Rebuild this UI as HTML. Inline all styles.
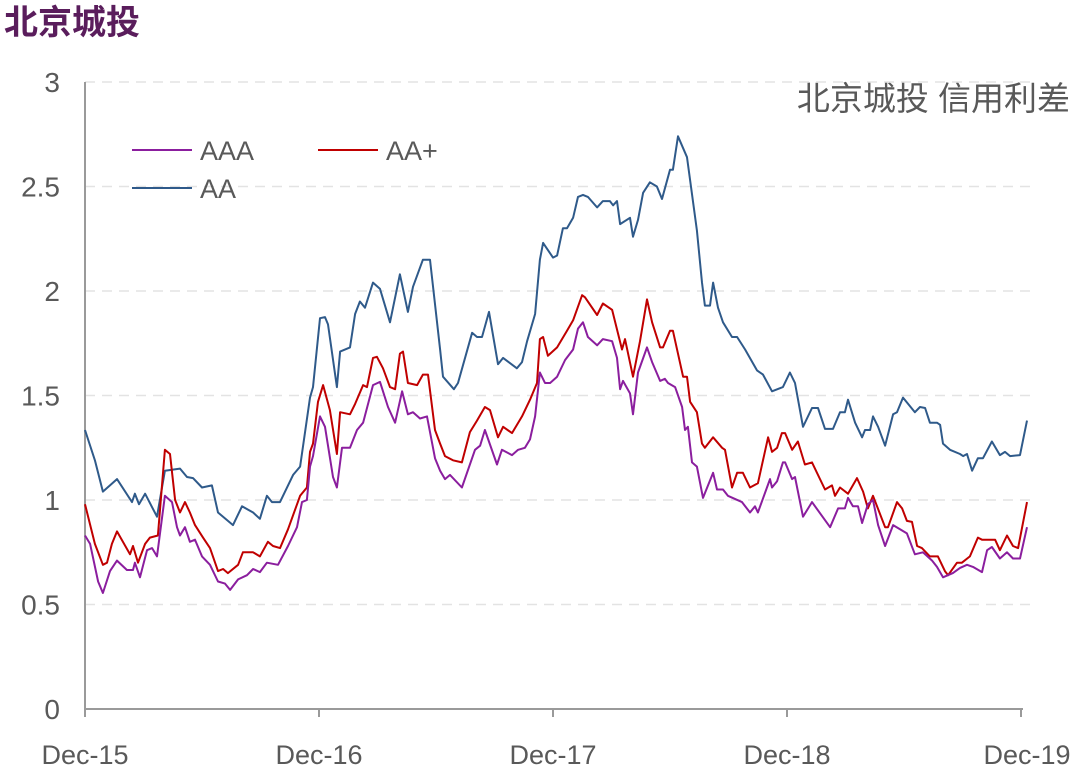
<!DOCTYPE html>
<html><head><meta charset="utf-8"><style>
body{margin:0;background:#fff;width:1080px;height:778px;overflow:hidden}
svg text{font-family:"Liberation Sans","Noto Sans CJK SC",sans-serif}
</style></head><body>
<svg id="chart" width="1080" height="778">
<text x="4" y="34" font-size="34" font-weight="bold" fill="#5a1d5c">北京城投</text>
<text x="1070" y="110" font-size="33" fill="#595959" text-anchor="end">北京城投 信用利差</text>
<g id="grid"></g><g id="axes"></g><g id="series"></g>
<g>
<line x1="132" y1="150" x2="192" y2="150" stroke="#8b1e9e" stroke-width="2"/>
<text x="200" y="160" font-size="27" fill="#595959">AAA</text>
<line x1="318" y1="150" x2="378" y2="150" stroke="#c00000" stroke-width="2"/>
<text x="386" y="160" font-size="27" fill="#595959">AA+</text>
<line x1="132" y1="188" x2="192" y2="188" stroke="#2f5a8a" stroke-width="2"/>
<text x="200" y="198" font-size="27" fill="#595959">AA</text>
</g>
</svg>
<script>
const xTickLabels=["Dec-15","Dec-16","Dec-17","Dec-18","Dec-19"];
const yTicks=[0,0.5,1,1.5,2,2.5,3];
const yTickLabels=["0","0.5","1","1.5","2","2.5","3"];
// months since Dec-15
const aaMonths=[0,.51,.92,1.64,2.41,2.56,2.77,3.08,3.69,4.10,4.87,5.23,5.54,6.0,6.51,6.82,7.59,8.05,8.62,8.97,9.33,9.59,10.0,10.67,11.03,11.54,11.69,12.05,12.31,12.46,12.92,13.08,13.59,13.85,14.10,14.36,14.77,15.13,15.64,16.15,16.56,16.82,17.33,17.69,18.21,18.36,18.92,19.13,19.85,20.10,20.36,20.72,21.18,21.44,22.15,22.41,22.67,23.08,23.33,23.49,24.0,24.21,24.51,24.72,25.03,25.28,25.54,25.79,26.26,26.56,26.92,27.08,27.28,27.44,27.95,28.10,28.36,28.62,28.97,29.33,29.59,30.0,30.15,30.41,30.87,31.38,31.64,31.79,32.05,32.21,32.46,32.72,33.18,33.44,33.85,34.46,34.77,35.23,35.79,36.15,36.41,36.82,37.28,37.59,37.95,38.36,38.72,38.97,39.13,39.49,39.85,40.0,40.26,40.41,40.67,41.03,41.44,41.64,41.95,42.21,42.56,42.82,43.08,43.33,43.69,43.85,44.0,44.36,44.87,45.03,45.23,45.49,45.79,46.05,46.51,46.92,47.18,47.44,47.95,48.31];
const aaValues=[1.335,1.19,1.04,1.10,0.99,1.03,0.98,1.03,0.92,1.14,1.15,1.11,1.105,1.06,1.07,0.94,0.88,0.97,0.94,0.91,1.02,0.99,0.99,1.12,1.16,1.49,1.54,1.87,1.875,1.84,1.54,1.71,1.73,1.89,1.95,1.92,2.04,2.01,1.85,2.08,1.90,2.02,2.15,2.15,1.72,1.59,1.53,1.56,1.80,1.78,1.78,1.90,1.65,1.68,1.63,1.66,1.76,1.89,2.15,2.23,2.16,2.17,2.30,2.30,2.35,2.45,2.46,2.45,2.40,2.43,2.43,2.41,2.43,2.32,2.35,2.26,2.34,2.47,2.52,2.50,2.44,2.58,2.58,2.74,2.64,2.29,2.04,1.93,1.93,2.04,1.92,1.85,1.78,1.78,1.72,1.62,1.60,1.52,1.54,1.61,1.56,1.35,1.44,1.44,1.34,1.34,1.42,1.42,1.48,1.37,1.30,1.335,1.335,1.40,1.35,1.26,1.41,1.42,1.49,1.46,1.42,1.445,1.44,1.37,1.37,1.36,1.27,1.24,1.22,1.21,1.22,1.14,1.20,1.20,1.28,1.215,1.23,1.21,1.215,1.38];
const aaPlusMonths=[0,.51,.92,1.13,1.38,1.64,2.31,2.46,2.72,3.08,3.33,3.74,4.10,4.36,4.62,4.87,5.13,5.38,5.64,6.05,6.41,6.82,7.08,7.33,7.85,8.10,8.62,8.97,9.38,9.64,10.0,10.41,11.03,11.38,11.54,11.69,11.95,12.21,12.56,12.92,13.08,13.59,13.85,14.26,14.46,14.77,14.97,15.28,15.64,15.90,16.15,16.31,16.56,17.03,17.33,17.59,17.95,18.21,18.46,18.87,19.33,19.74,20.10,20.51,20.77,21.18,21.44,21.90,22.41,22.82,23.18,23.33,23.49,23.74,24.21,24.72,25.03,25.49,25.64,26.26,26.56,27.03,27.54,27.69,28.10,28.46,28.82,29.08,29.49,29.64,30.0,30.15,30.67,30.87,31.03,31.38,31.64,31.79,32.21,32.67,32.82,33.18,33.44,33.74,34.10,34.51,35.03,35.23,35.49,35.74,35.90,36.26,36.56,36.92,37.28,37.95,38.31,38.46,38.72,39.13,39.59,39.90,40.15,40.41,41.03,41.18,41.64,41.90,42.15,42.41,42.67,42.92,43.33,43.74,44.10,44.26,44.72,44.97,45.38,45.79,46.0,46.67,46.92,47.28,47.59,47.85,48.31];
const aaPlusValues=[0.98,0.79,0.69,0.70,0.79,0.85,0.74,0.78,0.70,0.79,0.82,0.83,1.24,1.22,1.0,0.94,0.99,0.94,0.88,0.82,0.77,0.66,0.67,0.65,0.69,0.75,0.75,0.73,0.80,0.78,0.77,0.86,1.02,1.06,1.23,1.27,1.47,1.55,1.43,1.22,1.42,1.41,1.46,1.55,1.54,1.68,1.685,1.63,1.54,1.53,1.70,1.71,1.56,1.55,1.60,1.60,1.335,1.27,1.21,1.19,1.18,1.325,1.38,1.445,1.43,1.30,1.35,1.32,1.40,1.48,1.56,1.77,1.78,1.69,1.73,1.81,1.86,1.98,1.97,1.885,1.94,1.91,1.72,1.77,1.59,1.76,1.96,1.85,1.73,1.73,1.81,1.81,1.59,1.59,1.47,1.42,1.27,1.25,1.30,1.25,1.24,1.06,1.13,1.13,1.06,1.08,1.30,1.23,1.25,1.32,1.32,1.24,1.28,1.17,1.18,1.05,1.07,1.02,1.06,1.03,1.105,1.04,0.96,1.02,0.87,0.87,0.99,0.96,0.90,0.895,0.78,0.77,0.73,0.73,0.66,0.64,0.70,0.70,0.73,0.82,0.81,0.81,0.76,0.83,0.78,0.77,0.99];
const aaaMonths=[0,.26,.67,.92,1.28,1.64,2.15,2.46,2.56,2.82,3.18,3.44,3.69,4.10,4.46,4.72,4.87,5.13,5.38,5.64,6.0,6.41,6.82,7.18,7.44,7.85,8.31,8.62,8.97,9.33,9.90,10.41,10.87,11.13,11.38,11.54,11.69,12.05,12.31,12.72,12.92,13.18,13.44,13.59,13.95,14.26,14.77,15.13,15.54,15.90,16.26,16.56,16.82,17.18,17.54,17.69,17.95,18.21,18.46,18.72,19.33,20.0,20.26,20.51,21.13,21.38,21.90,22.21,22.56,22.82,23.08,23.33,23.59,23.85,24.21,24.62,25.03,25.28,25.54,25.79,26.26,26.56,27.03,27.28,27.44,27.59,27.95,28.10,28.36,28.82,29.08,29.49,29.74,29.90,30.26,30.62,30.77,30.92,31.13,31.38,31.69,32.21,32.41,32.72,32.97,33.69,34.10,34.36,34.51,35.13,35.23,35.49,35.79,35.90,36.26,36.41,36.82,37.28,38.21,38.62,38.97,39.13,39.38,39.64,39.85,40.15,40.41,40.67,41.03,41.44,42.15,42.56,42.97,43.44,43.69,44.0,44.51,44.87,45.23,45.54,46.0,46.26,46.51,46.92,47.28,47.59,47.95,48.31];
const aaaValues=[0.83,0.79,0.61,0.555,0.66,0.71,0.665,0.665,0.70,0.63,0.76,0.77,0.73,1.02,0.99,0.87,0.83,0.87,0.80,0.81,0.73,0.69,0.61,0.60,0.57,0.62,0.64,0.67,0.655,0.70,0.69,0.78,0.87,0.99,1.0,1.16,1.21,1.40,1.35,1.11,1.06,1.25,1.25,1.25,1.335,1.37,1.55,1.565,1.445,1.37,1.52,1.41,1.42,1.39,1.40,1.325,1.20,1.14,1.10,1.12,1.06,1.24,1.26,1.335,1.17,1.24,1.215,1.24,1.25,1.29,1.40,1.61,1.56,1.56,1.59,1.67,1.72,1.82,1.85,1.78,1.74,1.77,1.76,1.68,1.53,1.57,1.51,1.41,1.61,1.73,1.66,1.57,1.58,1.56,1.54,1.445,1.335,1.35,1.18,1.16,1.01,1.13,1.05,1.05,1.02,0.99,0.94,0.97,0.94,1.10,1.06,1.09,1.18,1.18,1.10,1.11,0.92,0.99,0.87,0.96,0.96,1.01,0.97,0.97,0.89,0.98,1.0,0.88,0.78,0.88,0.84,0.74,0.75,0.71,0.68,0.63,0.65,0.675,0.69,0.68,0.655,0.76,0.775,0.72,0.75,0.72,0.72,0.87];

const NS="http://www.w3.org/2000/svg";
const X0=85,X1=1021,Y0=709,Y1=82;
const xScale=m=>X0+(X1-X0)*m/48;
const yScale=v=>Y0-(Y0-Y1)*v/3;
function mk(tag,attrs,parent){const e=document.createElementNS(NS,tag);for(const k in attrs)e.setAttribute(k,attrs[k]);parent.appendChild(e);return e;}
const grid=document.getElementById('grid'),axes=document.getElementById('axes'),ser=document.getElementById('series');
yTicks.forEach((v,i)=>{
  if(v>0){const g=mk('line',{x1:X0,x2:1030,y1:yScale(v),y2:yScale(v),stroke:'#e3e3e3','stroke-width':1.5,'stroke-dasharray':'10,7'},grid);
  
  }
  const t=mk('text',{x:60,y:yScale(v)+10,'font-size':28,fill:'#595959','text-anchor':'end'},axes);
  t.textContent=yTickLabels[i];
  
  
});
const ya=mk('line',{x1:X0,x2:X0,y1:Y1,y2:Y0,stroke:'#9a9a9a','stroke-width':2},axes);


const xa=mk('line',{x1:X0,x2:X1+2,y1:Y0,y2:Y0,stroke:'#9a9a9a','stroke-width':2},axes);


xTickLabels.forEach((l,i)=>{
  const x=xScale(i*12);
  const tk=mk('line',{x1:x,x2:x,y1:Y0,y2:Y0+8,stroke:'#9a9a9a','stroke-width':2},axes);
  
  
  const t=mk('text',{x:i==4?x+6:x,y:764,'font-size':27,fill:'#595959','text-anchor':'middle'},axes);
  t.textContent=l;
  
  
});
function draw(ms,vs,color,name){
  const d=ms.map((m,i)=>(i?'L':'M')+xScale(m).toFixed(1)+','+yScale(vs[i]).toFixed(1)).join('');
  const p=mk('path',{d:d,fill:'none',stroke:color,'stroke-width':2,'stroke-linejoin':'round'},ser);
  
  
}
draw(aaMonths,aaValues,'#2f5a8a','series-aa');
draw(aaPlusMonths,aaPlusValues,'#c00000','series-aa-plus');
draw(aaaMonths,aaaValues,'#8b1e9e','series-aaa');
</script>
</body></html>
